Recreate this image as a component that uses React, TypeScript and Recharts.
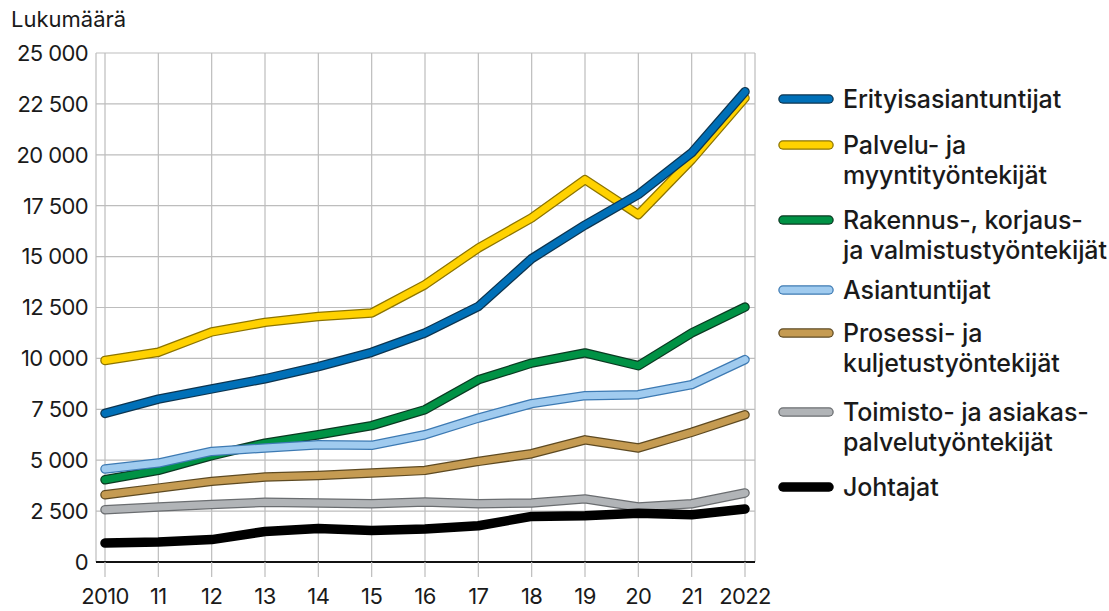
import { LineChart, Line, XAxis, YAxis, CartesianGrid } from 'recharts';

const years = ['2010', '11', '12', '13', '14', '15', '16', '17', '18', '19', '20', '21', '2022'];

const erityisasiantuntijat = [7300, 8000, 8500, 9000, 9600, 10300, 11250, 12550, 14900, 16550, 18050, 20100, 23100];
const palvelu = [9900, 10300, 11300, 11770, 12060, 12230, 13620, 15420, 16900, 18780, 17060, 19760, 22790];
const rakennus = [4040, 4500, 5220, 5840, 6250, 6700, 7480, 8950, 9770, 10270, 9640, 11250, 12520];
const asiantuntijat = [4570, 4860, 5430, 5600, 5760, 5730, 6250, 7070, 7780, 8170, 8220, 8710, 9940];
const prosessi = [3300, 3630, 3960, 4170, 4250, 4370, 4500, 4940, 5320, 6000, 5600, 6370, 7230];
const toimisto = [2570, 2700, 2830, 2930, 2900, 2860, 2950, 2860, 2900, 3100, 2700, 2860, 3390];
const johtajat = [930, 980, 1100, 1500, 1640, 1550, 1620, 1780, 2240, 2270, 2400, 2320, 2600];

const yTicks = [0, 2500, 5000, 7500, 10000, 12500, 15000, 17500, 20000, 22500, 25000];

const series = [
  { key: 'palvelu', name: 'Palvelu- ja\nmyyntityöntekijät', values: palvelu, color: '#ffd200', edge: '#8c7400' },
  { key: 'erityis', name: 'Erityisasiantuntijat', values: erityisasiantuntijat, color: '#0070b8', edge: '#0d3550' },
  { key: 'rakennus', name: 'Rakennus-, korjaus-\nja valmistustyöntekijät', values: rakennus, color: '#009245', edge: '#0b3a22' },
  { key: 'asiantuntijat', name: 'Asiantuntijat', values: asiantuntijat, color: '#a0cbef', edge: '#3d7ab3' },
  { key: 'prosessi', name: 'Prosessi- ja\nkuljetustyöntekijät', values: prosessi, color: '#c59b52', edge: '#5e4a22' },
  { key: 'toimisto', name: 'Toimisto- ja asiakas-\npalvelutyöntekijät', values: toimisto, color: '#b1b4b7', edge: '#6a6d70' },
  { key: 'johtajat', name: 'Johtajat', values: johtajat, color: '#000000', edge: '#000000' },
];

const legendOrder = ['erityis', 'palvelu', 'rakennus', 'asiantuntijat', 'prosessi', 'toimisto', 'johtajat'];
const legendTop = [84, 130, 205, 275, 318, 397, 472];

const data = years.map((year, i) => {
  const row: Record<string, string | number> = { year };
  series.forEach((s) => {
    row[s.key] = s.values[i];
  });
  return row;
});

const fmt = (v: number) => String(v).replace(/\B(?=(\d{3})+(?!\d))/g, ' ');

const FONT = 'Inter, "Noto Sans", sans-serif';
const TEXT = '#1a1a1a';

export default function App() {
  return (
    <div style={{ position: 'absolute', left: 0, top: 0, width: 1109, height: 611, background: '#fff', fontFamily: FONT }}>
      <div style={{ position: 'absolute', left: 11, top: 6, fontSize: 22, color: TEXT }}>Lukumäärä</div>
      <LineChart width={1109} height={611} data={data} margin={{ top: 53, right: 354, left: 0, bottom: 0 }}>
        <CartesianGrid stroke="#bdbdbd" strokeWidth={1.2} />
        <XAxis
          dataKey="year"
          interval={0}
          padding={{ left: 9, right: 10 }}
          height={49}
          tickSize={15}
          tickMargin={11}
          tickLine={{ stroke: '#bdbdbd', strokeWidth: 1.2 }}
          axisLine={{ stroke: '#111', strokeWidth: 2 }}
          tick={{ fill: TEXT, fontSize: 22, fontFamily: FONT, letterSpacing: -0.6 }}
        />
        <YAxis
          domain={[0, 25000]}
          ticks={yTicks}
          width={96}
          axisLine={false}
          tickLine={false}
          tickFormatter={fmt}
          tick={{ fill: TEXT, fontSize: 22, fontFamily: FONT, letterSpacing: -0.6 }}
        />
        {series.flatMap((s) => [
          <Line
            key={s.key + '-edge'}
            dataKey={s.key}
            stroke={s.edge}
            strokeWidth={9.5}
            strokeLinecap="round"
            strokeLinejoin="round"
            dot={false}
            activeDot={false}
            isAnimationActive={false}
          />,
          <Line
            key={s.key + '-fill'}
            dataKey={s.key}
            stroke={s.color}
            strokeWidth={7}
            strokeLinecap="round"
            strokeLinejoin="round"
            dot={false}
            activeDot={false}
            isAnimationActive={false}
          />,
        ])}
      </LineChart>
      {legendOrder.map((k, i) => {
        const s = series.find((x) => x.key === k)!;
        return (
          <div key={k} style={{ position: 'absolute', left: 774, top: legendTop[i], display: 'flex', alignItems: 'flex-start' }}>
            <svg width={64} height={30} style={{ flex: 'none' }}>
              <line x1={9} y1={15} x2={55} y2={15} stroke={s.edge} strokeWidth={9.5} strokeLinecap="round" />
              <line x1={9} y1={15} x2={55} y2={15} stroke={s.color} strokeWidth={7} strokeLinecap="round" />
            </svg>
            <div style={{ marginLeft: 5, fontSize: 25, lineHeight: '30px', fontWeight: 500, color: TEXT, whiteSpace: 'pre-line', letterSpacing: -0.1 }}>
              {s.name}
            </div>
          </div>
        );
      })}
    </div>
  );
}
